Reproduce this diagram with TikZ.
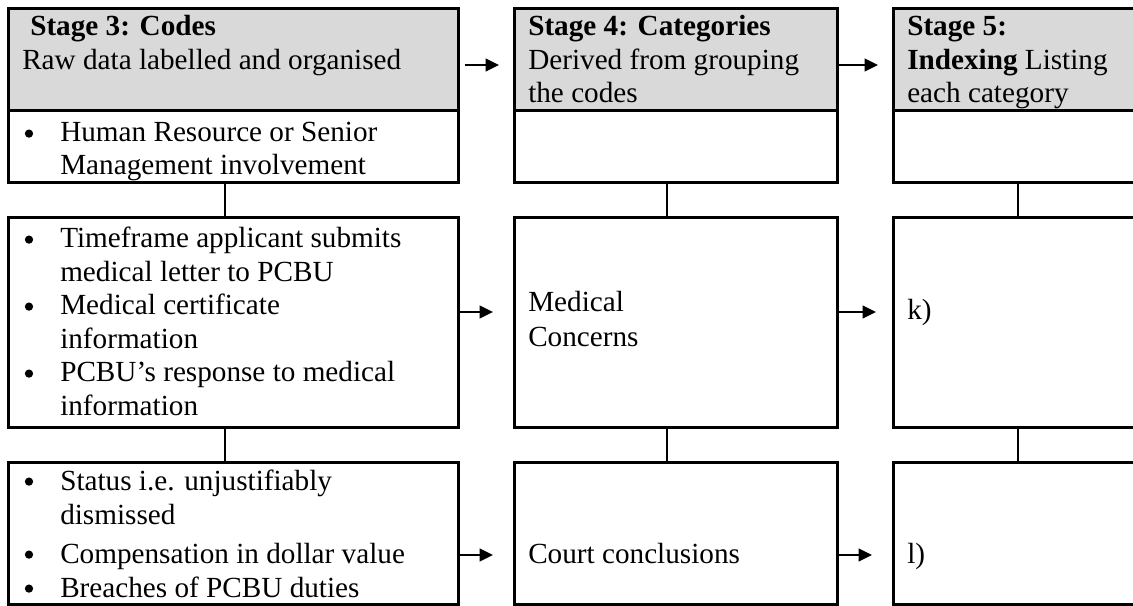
\documentclass[tikz,border=0pt]{standalone}
\usepackage{fontspec}
\setmainfont{Liberation Serif}
\usetikzlibrary{arrows.meta}
\definecolor{headgrey}{HTML}{D9D9D9}
\tikzset{
  wh/.style 2 args={minimum width=#1*0.75pt, minimum height=#2*0.75pt},
  cell/.style={draw, line width=2pt, rectangle, inner sep=0pt, anchor=north west},
  headcell/.style={cell, fill=headgrey},
  txt/.style={anchor=base west, inner sep=0pt},
  dot/.style={circle, fill=black, inner sep=0pt, minimum size=6.2pt, yshift=6.3pt},
  link/.style={line width=1.5pt},
  flow/.style={line width=1.5pt, -{Triangle[length=10pt,width=9.5pt]}},
}
\begin{document}
\begin{tikzpicture}[x=0.75pt, y=-0.75pt, font=\fontsize{21.9pt}{25.1pt}\selectfont]
\useasboundingbox (0,0) rectangle (1133,606);
\clip (0,0) rectangle (1133,606);

% stage headers
\node[headcell, wh={450}{102}] (s3h) at (7,7) {};
\node[headcell, wh={323}{102}] (s4h) at (513,7) {};
\node[headcell, wh={267}{102}] (s5h) at (892,7) {};
% first row bodies
\node[cell, wh={450}{72}] (s3a) at (7,109) {};
\node[cell, wh={323}{72}] (s4a) at (513,109) {};
\node[cell, wh={267}{72}] (s5a) at (892,109) {};
% second row
\node[cell, wh={450}{210}] (s3b) at (7,216) {};
\node[cell, wh={323}{210}] (s4b) at (513,216) {};
\node[cell, wh={267}{210}] (s5b) at (892,216) {};
% third row
\node[cell, wh={450}{142}] (s3c) at (7,461) {};
\node[cell, wh={323}{142}] (s4c) at (513,461) {};
\node[cell, wh={267}{142}] (s5c) at (892,461) {};

% vertical links between rows
\foreach \col in {3,4,5} {
  \draw[link] ([xshift=-6.4pt]s\col a.south) -- ([xshift=-6.4pt]s\col b.north);
  \draw[link] ([xshift=-6.4pt]s\col b.south) -- ([xshift=-6.4pt]s\col c.north);
}

% horizontal flow arrows
\draw[flow, shorten <=3.75pt, shorten >=10.5pt] (s3h.east |- 0,65) -- (s4h.west |- 0,65);
\draw[flow, shorten >=10.5pt] (s4h.east |- 0,65) -- (s5h.west |- 0,65);
\draw[flow, shorten >=15pt] (s3b.east |- 0,312) -- (s4b.west |- 0,312);
\draw[flow, shorten >=12pt] (s4b.east |- 0,312) -- (s5b.west |- 0,312);
\draw[flow, shorten >=15pt] (s3c.east |- 0,555) -- (s4c.west |- 0,555);
\draw[flow, shorten >=15pt] (s4c.east |- 0,555) -- (s5c.west |- 0,555);

% header texts
\node[txt] (t3a) at (30,36) {\textbf{Stage 3: Codes}};
\node[txt] (t3b) at (22,70) {Raw data labelled and organised};
\node[txt] (t4a) at (528,36) {\textbf{Stage 4: Categories}};
\node[txt] (t4b) at (528,70) {Derived from grouping};
\node[txt] (t4c) at (528,103) {the codes};
\node[txt] (t5a) at (907,36) {\textbf{Stage 5:}};
\node[txt] (t5b) at (907,70) {\textbf{Indexing} Listing};
\node[txt] (t5c) at (907,103) {each category};

% first row codes
\node[dot] (d1) at (29,142) {};
\node[txt] (c1a) at (60,142) {Human Resource or Senior};
\node[txt] (c1b) at (60,175) {Management involvement};

% second row codes
\node[dot] (d2) at (29,248) {};
\node[txt] (c2a) at (60,248) {Timeframe applicant submits};
\node[txt] (c2b) at (60,281.5) {medical letter to PCBU};
\node[dot] (d3) at (29,315) {};
\node[txt] (c2c) at (60,315) {Medical certificate};
\node[txt] (c2d) at (60,348.5) {information};
\node[dot] (d4) at (29,382) {};
\node[txt] (c2e) at (60,382) {PCBU’s response to medical};
\node[txt] (c2f) at (60,415.5) {information};

% third row codes
\node[dot] (d5) at (29,490) {};
\node[txt] (c3a) at (60,490) {Status i.e. unjustifiably};
\node[txt] (c3b) at (60,524) {dismissed};
\node[dot] (d6) at (29,563) {};
\node[txt] (c3c) at (60,563) {Compensation in dollar value};
\node[dot] (d7) at (29,597) {};
\node[txt] (c3d) at (60,597) {Breaches of PCBU duties};

% categories and index entries
\node[txt] (m1) at (528,312) {Medical};
\node[txt] (m2) at (528,346) {Concerns};
\node[txt] (k) at (907,320) {k)};
\node[txt] (cc) at (528,563) {Court conclusions};
\node[txt] (l) at (907,563) {l)};
\end{tikzpicture}
\end{document}
